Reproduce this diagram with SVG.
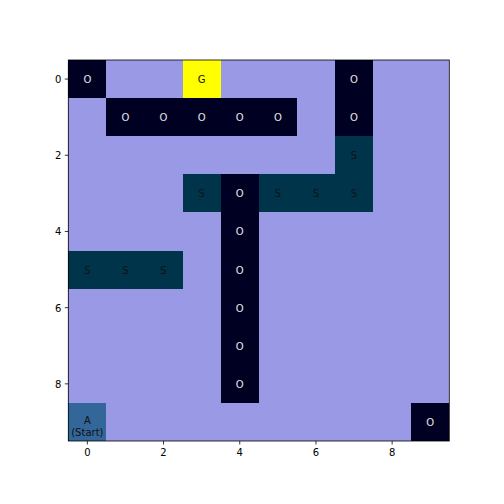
<svg xmlns="http://www.w3.org/2000/svg" width="504" height="504" viewBox="0 0 504 504">
<style>
rect{shape-rendering:crispEdges}
.bg{fill:#9999e5}
.o{fill:#000022}
.s{fill:#00344b}
.g{fill:#ffff00}
.a{fill:#336699}
text{font-family:"DejaVu Sans",sans-serif;font-size:10px;text-anchor:middle}
.lw{fill:#e6e6e6}
.ld{fill:#111111}
.tick{stroke:#000;stroke-width:0.8}
.tl{fill:#000}
</style>
<rect width="504" height="504" fill="#fff"/>
<rect class="bg" x="68.3" y="60" width="381" height="381"/>
<g id="cells">
<g id="c0_0"><rect class="o" x="68.3" y="60" width="38.1" height="38.1"/><text class="lw" x="87.35" y="83">O</text></g>
<g id="c0_3"><rect class="g" x="182.6" y="60" width="38.1" height="38.1"/><text class="ld" x="201.65" y="83">G</text></g>
<g id="c0_7"><rect class="o" x="335" y="60" width="38.1" height="38.1"/><text class="lw" x="354.05" y="83">O</text></g>
<g id="c1_1"><rect class="o" x="106.4" y="98.1" width="38.1" height="38.1"/><text class="lw" x="125.45" y="121.1">O</text></g>
<g id="c1_2"><rect class="o" x="144.5" y="98.1" width="38.1" height="38.1"/><text class="lw" x="163.55" y="121.1">O</text></g>
<g id="c1_3"><rect class="o" x="182.6" y="98.1" width="38.1" height="38.1"/><text class="lw" x="201.65" y="121.1">O</text></g>
<g id="c1_4"><rect class="o" x="220.7" y="98.1" width="38.1" height="38.1"/><text class="lw" x="239.75" y="121.1">O</text></g>
<g id="c1_5"><rect class="o" x="258.8" y="98.1" width="38.1" height="38.1"/><text class="lw" x="277.85" y="121.1">O</text></g>
<g id="c1_7"><rect class="o" x="335" y="98.1" width="38.1" height="38.1"/><text class="lw" x="354.05" y="121.1">O</text></g>
<g id="c2_7"><rect class="s" x="335" y="136.2" width="38.1" height="38.1"/><text class="ld" x="354.05" y="159.2">S</text></g>
<g id="c3_3"><rect class="s" x="182.6" y="174.3" width="38.1" height="38.1"/><text class="ld" x="201.65" y="197.3">S</text></g>
<g id="c3_4"><rect class="o" x="220.7" y="174.3" width="38.1" height="38.1"/><text class="lw" x="239.75" y="197.3">O</text></g>
<g id="c3_5"><rect class="s" x="258.8" y="174.3" width="38.1" height="38.1"/><text class="ld" x="277.85" y="197.3">S</text></g>
<g id="c3_6"><rect class="s" x="296.9" y="174.3" width="38.1" height="38.1"/><text class="ld" x="315.95" y="197.3">S</text></g>
<g id="c3_7"><rect class="s" x="335" y="174.3" width="38.1" height="38.1"/><text class="ld" x="354.05" y="197.3">S</text></g>
<g id="c4_4"><rect class="o" x="220.7" y="212.4" width="38.1" height="38.1"/><text class="lw" x="239.75" y="235.4">O</text></g>
<g id="c5_0"><rect class="s" x="68.3" y="250.5" width="38.1" height="38.1"/><text class="ld" x="87.35" y="273.5">S</text></g>
<g id="c5_1"><rect class="s" x="106.4" y="250.5" width="38.1" height="38.1"/><text class="ld" x="125.45" y="273.5">S</text></g>
<g id="c5_2"><rect class="s" x="144.5" y="250.5" width="38.1" height="38.1"/><text class="ld" x="163.55" y="273.5">S</text></g>
<g id="c5_4"><rect class="o" x="220.7" y="250.5" width="38.1" height="38.1"/><text class="lw" x="239.75" y="273.5">O</text></g>
<g id="c6_4"><rect class="o" x="220.7" y="288.6" width="38.1" height="38.1"/><text class="lw" x="239.75" y="311.6">O</text></g>
<g id="c7_4"><rect class="o" x="220.7" y="326.7" width="38.1" height="38.1"/><text class="lw" x="239.75" y="349.7">O</text></g>
<g id="c8_4"><rect class="o" x="220.7" y="364.8" width="38.1" height="38.1"/><text class="lw" x="239.75" y="387.8">O</text></g>
<g id="c9_0"><rect class="a" x="68.3" y="402.9" width="38.1" height="38.1"/><text class="ld" x="87.35" y="424.2">A</text><text class="ld" x="87.35" y="435.8">(Start)</text></g>
<g id="c9_9"><rect class="o" x="411.2" y="402.9" width="38.1" height="38.1"/><text class="lw" x="430.25" y="425.9">O</text></g>
</g>
<rect x="68.3" y="60" width="381" height="381" fill="none" stroke="#000" stroke-width="0.8" style="shape-rendering:auto"/>
<g id="xticks">
<line class="tick" x1="87.35" y1="441" x2="87.35" y2="444.5"/>
<line class="tick" x1="163.55" y1="441" x2="163.55" y2="444.5"/>
<line class="tick" x1="239.75" y1="441" x2="239.75" y2="444.5"/>
<line class="tick" x1="315.95" y1="441" x2="315.95" y2="444.5"/>
<line class="tick" x1="392.15" y1="441" x2="392.15" y2="444.5"/>
<text class="tl" x="87.35" y="455.5">0</text>
<text class="tl" x="163.55" y="455.5">2</text>
<text class="tl" x="239.75" y="455.5">4</text>
<text class="tl" x="315.95" y="455.5">6</text>
<text class="tl" x="392.15" y="455.5">8</text>
</g>
<g id="yticks">
<line class="tick" x1="64.8" y1="79.05" x2="68.3" y2="79.05"/>
<line class="tick" x1="64.8" y1="155.25" x2="68.3" y2="155.25"/>
<line class="tick" x1="64.8" y1="231.45" x2="68.3" y2="231.45"/>
<line class="tick" x1="64.8" y1="307.65" x2="68.3" y2="307.65"/>
<line class="tick" x1="64.8" y1="383.85" x2="68.3" y2="383.85"/>
<text class="tl" x="61.3" y="83" style="text-anchor:end">0</text>
<text class="tl" x="61.3" y="159.2" style="text-anchor:end">2</text>
<text class="tl" x="61.3" y="235.4" style="text-anchor:end">4</text>
<text class="tl" x="61.3" y="311.6" style="text-anchor:end">6</text>
<text class="tl" x="61.3" y="387.8" style="text-anchor:end">8</text>
</g>
</svg>
